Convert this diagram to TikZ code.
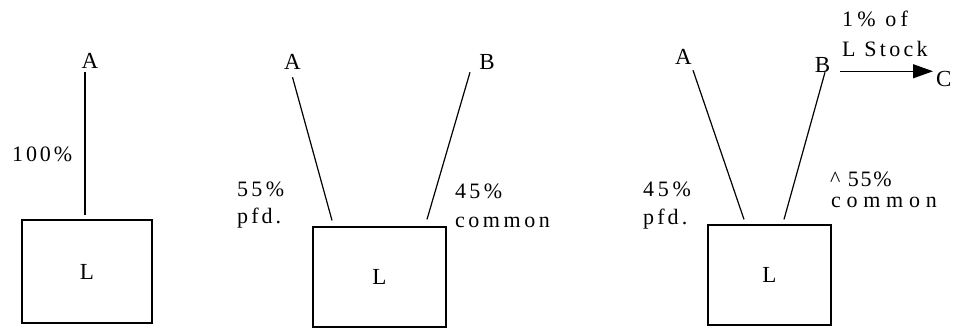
\documentclass[tikz,border=0pt]{standalone}
\usepackage{fontspec}
\setmainfont{Liberation Serif}
\usetikzlibrary{arrows.meta,calc}
\begin{document}
\begin{tikzpicture}[x=1pt,y=1pt,
  letter/.style={inner sep=0pt,anchor=base,font=\fontsize{23}{23}\selectfont},
  lab/.style={inner sep=0pt,anchor=base west,font=\fontsize{22}{22}\selectfont\addfontfeature{LetterSpace=#1}},
  lab/.default=12,
  corp/.style={draw,line width=1.2pt,inner sep=0pt,font=\fontsize{23}{23}\selectfont},
  link/.style={line width=1.2pt},
  xfer/.style={line width=1.2pt,-{Triangle[length=20pt,width=14pt]}}]
\useasboundingbox (0,0) rectangle (955,329);
% Panel 1
\node[letter] (A1) at (90,260) {A};
\node[corp,minimum width=130pt,minimum height=103pt] (L1) at (87,57.5) {L};
\draw[link] ($(A1.south)+(-5,-3)$) -- ($(L1.north)+(-2,4)$);
\node[lab=13] (p1) at (12,167) {100\%};
% Panel 2
\node[letter] (A2) at (292.5,259) {A};
\node[letter] (B2) at (487,259) {B};
\node[corp,minimum width=133pt,minimum height=100pt] (L2) at (379.5,52) {L};
\draw[link] ($(A2.south)+(0,-7)$) -- ($(L2.north)+(-47.5,6)$);
\draw[link] ($(B2.south)+(-17,-2)$) -- ($(L2.north)+(47.5,7)$);
\node[lab=15] (p2a) at (237,132) {55\%};
\node[lab=14] (p2b) at (237,105) {pfd.};
\node[lab=15] (p2c) at (455,130) {45\%};
\node[lab=16] (p2d) at (455,101) {common};
% Panel 3
\node[letter] (A3) at (683.5,264) {A};
\node[letter] (B3) at (822.5,256) {B};
\node[corp,minimum width=123pt,minimum height=100pt] (L3) at (769.5,54) {L};
\draw[link] ($(A3.south)+(9.5,-5)$) -- ($(L3.north)+(-25.5,5)$);
\draw[link] ($(B3.south)+(2.5,1)$) -- ($(L3.north)+(14.5,5)$);
\node[lab=17] (p3a) at (643,132) {45\%};
\node[lab=14] (p3b) at (643,104) {pfd.};
\node[lab=8] (p3c) at (830,142) {\^{} 55\%};
\node[lab=26] (p3d) at (831,121) {common};
\node[lab=19] (p3e) at (842,302) {1\% of};
\node[lab=15] (p3f) at (842,272) {L Stock};
\node[letter,anchor=base west] (C3) at (936,242) {C};
\coordinate (xs) at ($(B3.south)+(17.5,2)$);
\draw[xfer,shorten >=3pt] (xs) -- (xs -| C3.west);
\end{tikzpicture}
\end{document}
